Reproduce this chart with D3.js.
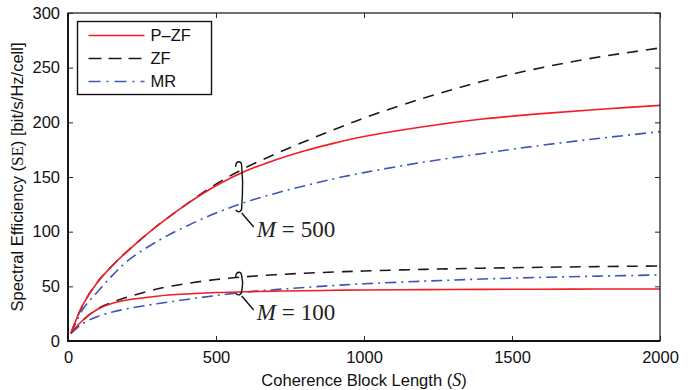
<!DOCTYPE html>
<html>
<head>
<meta charset="utf-8">
<script src="https://cdn.jsdelivr.net/npm/d3@7/dist/d3.min.js"></script>
<style>
  html, body { margin: 0; padding: 0; background: #fff; }
  svg { display: block; }
</style>
</head>
<body>
<svg id="chart" width="694" height="390"></svg>
<script>
// Coherence block length S (samples)
const blockLength = [10, 50, 100, 150, 200, 300, 400, 500, 600, 700, 800, 900, 1000, 1200, 1400, 1600, 1800, 2000];

// Spectral efficiency [bit/s/Hz/cell], M = 500 antennas
const pzf500 = [7, 33, 54, 69, 82, 105, 125, 142, 155.5, 165.5, 174, 181, 187, 196, 203, 208, 212, 215.5];
const zf500  = [7, 33, 54, 69, 82, 105, 125, 143.5, 158.5, 171, 182.5, 193.5, 204, 222, 237.5, 250, 260, 268];
const mr500  = [7, 29, 45, 60, 73, 91, 105, 117, 127, 135, 142, 148.5, 154, 163.5, 171.5, 179, 185.5, 191.5];

// Spectral efficiency [bit/s/Hz/cell], M = 100 antennas
const pzf100 = [7, 19, 29, 34.5, 37.5, 41, 43, 44.3, 45, 45.6, 46, 46.4, 46.7, 47, 47.2, 47.4, 47.5, 47.6];
const zf100  = [7, 19, 29.5, 35.5, 40, 47.5, 52.5, 56.2, 58.8, 60.6, 62, 63.1, 64, 65.5, 66.6, 67.4, 68.1, 68.6];
const mr100  = [7, 16, 22.5, 26.5, 29.5, 34, 38, 41.6, 44.8, 47, 49, 50.8, 52.3, 54.7, 56.7, 58.2, 59.4, 60.4];

const xTicks = [0, 500, 1000, 1500, 2000];
const yTicks = [0, 50, 100, 150, 200, 250, 300];

const legendNames = ["P\u2013ZF", "ZF", "MR"];

const W = 694, H = 390;
const margin = { left: 68, top: 13, right: 34, bottom: 49 };
const innerW = W - margin.left - margin.right;
const innerH = H - margin.top - margin.bottom;

const svg = d3.select("#chart");
const g = svg.append("g").attr("transform", `translate(${margin.left},${margin.top})`);

const x = d3.scaleLinear().domain([0, 2000]).range([0, innerW]);
const y = d3.scaleLinear().domain([0, 300]).range([innerH, 0]);

const sansFont = "'Liberation Sans', Arial, Helvetica, sans-serif";
const serifFont = "'Liberation Serif', 'Times New Roman', serif";

// Line styles per scheme
const styles = {
  pzf: { color: "#f41c24", dash: null },
  zf:  { color: "#1a1a1a", dash: "11,8" },
  mr:  { color: "#3a57b4", dash: "11,5,2,5" }
};

const series = [
  { key: "mr",  values: mr100 },
  { key: "zf",  values: zf100 },
  { key: "pzf", values: pzf100 },
  { key: "mr",  values: mr500 },
  { key: "zf",  values: zf500 },
  { key: "pzf", values: pzf500 }
];

const line = d3.line()
  .x((d, i) => x(blockLength[i]))
  .y(d => y(d))
  .curve(d3.curveCatmullRom.alpha(0.5));

g.append("g")
  .selectAll("path")
  .data(series)
  .join("path")
  .attr("fill", "none")
  .attr("stroke", d => styles[d.key].color)
  .attr("stroke-width", 1.6)
  .attr("stroke-dasharray", d => styles[d.key].dash)
  .attr("d", d => line(d.values));

// Axes with inward ticks on all four sides
const axisColor = "#262626";
function styleAxis(sel) {
  sel.select(".domain").remove();
  sel.selectAll(".tick line").attr("stroke", axisColor).attr("stroke-width", 1);
  sel.selectAll(".tick text")
    .attr("font-family", sansFont)
    .attr("font-size", 16.5)
    .attr("fill", "#111");
}

const xAxis = g.append("g").attr("transform", `translate(0,${innerH})`)
  .call(d3.axisBottom(x).tickValues(xTicks).tickSize(-5).tickPadding(10).tickFormat(d3.format("d")));
styleAxis(xAxis);
xAxis.selectAll(".tick text").attr("dy", "0.75em");

const xAxisTop = g.append("g")
  .call(d3.axisTop(x).tickValues(xTicks).tickSize(-5).tickFormat(""));
styleAxis(xAxisTop);

const yAxis = g.append("g")
  .call(d3.axisLeft(y).tickValues(yTicks).tickSize(-5).tickPadding(8).tickFormat(d3.format("d")));
styleAxis(yAxis);

const yAxisRight = g.append("g").attr("transform", `translate(${innerW},0)`)
  .call(d3.axisRight(y).tickValues(yTicks).tickSize(-5).tickFormat(""));
styleAxis(yAxisRight);

// Plot frame
g.append("rect")
  .attr("x", 0).attr("y", 0)
  .attr("width", innerW).attr("height", innerH)
  .attr("fill", "none")
  .attr("stroke", axisColor)
  .attr("stroke-width", 1.3);
g.append("path")
  .attr("d", `M0,0 V${innerH} H${innerW}`)
  .attr("fill", "none")
  .attr("stroke", "#111")
  .attr("stroke-width", 1.8);

// Axis titles
const xTitle = svg.append("text")
  .attr("x", margin.left + innerW / 2)
  .attr("y", 386)
  .attr("text-anchor", "middle")
  .attr("font-family", sansFont)
  .attr("font-size", 16.5)
  .attr("fill", "#111");
xTitle.append("tspan").text("Coherence Block Length (");
xTitle.append("tspan").attr("font-family", serifFont).attr("font-style", "italic").attr("font-size", 18).text("S");
xTitle.append("tspan").text(")");

const yTitle = svg.append("text")
  .attr("transform", `translate(23,${margin.top + innerH / 2}) rotate(-90)`)
  .attr("text-anchor", "middle")
  .attr("font-family", sansFont)
  .attr("font-size", 16.5)
  .attr("fill", "#111");
yTitle.append("tspan").text("Spectral Efficiency (");
yTitle.append("tspan").attr("font-family", serifFont).attr("font-size", 17).text("SE");
yTitle.append("tspan").text(") [bit/s/Hz/cell]");

// Legend
const legend = g.append("g").attr("transform", "translate(9.5,8.5)");
legend.append("rect")
  .attr("width", 134).attr("height", 73)
  .attr("fill", "#fff")
  .attr("stroke", "#111")
  .attr("stroke-width", 1.4);
const legendKeys = ["pzf", "zf", "mr"];
legendKeys.forEach((k, i) => {
  const ly = 14 + i * 23;
  legend.append("line")
    .attr("x1", 11).attr("x2", 67)
    .attr("y1", ly).attr("y2", ly)
    .attr("stroke", styles[k].color)
    .attr("stroke-width", 1.6)
    .attr("stroke-dasharray", k === "zf" ? "13,7" : (k === "mr" ? "12,6,2,6" : null));
  legend.append("text")
    .attr("x", 73).attr("y", ly)
    .attr("dy", "0.36em")
    .attr("font-family", sansFont)
    .attr("font-size", 16.5)
    .attr("fill", "#111")
    .text(legendNames[i]);
});

// Brace annotations grouping the curves for each antenna count
function brace(sAt, vTop, vBottom, label) {
  const bx = x(sAt);
  const t = y(vTop), b = y(vBottom);
  const ann = g.append("g").attr("fill", "none").attr("stroke", "#111").attr("stroke-width", 1.4);
  ann.append("path").attr("d",
    `M${bx - 4},${t + 4} C${bx - 4},${t - 2} ${bx + 2},${t - 3} ${bx + 2},${t + 3}` +
    ` C${bx + 4},${(t + b) / 2} ${bx + 3},${(t + b) / 2} ${bx + 2},${b - 4}` +
    ` C${bx + 2},${b} ${bx - 2},${b + 1} ${bx - 4},${b - 2}`);
  ann.append("path").attr("d", `M${bx + 2},${b + 1} L${bx + 14},${b + 15}`);
  const txt = g.append("text")
    .attr("x", bx + 17)
    .attr("y", b + 25)
    .attr("font-family", serifFont)
    .attr("font-size", 23)
    .attr("fill", "#222");
  txt.append("tspan").attr("font-style", "italic").text("M");
  txt.append("tspan").attr("dx", 6).text("=");
  txt.append("tspan").attr("dx", 6).text(label);
}
brace(580, 163, 118, "500");
brace(580, 62, 42, "100");
</script>
</body>
</html>
